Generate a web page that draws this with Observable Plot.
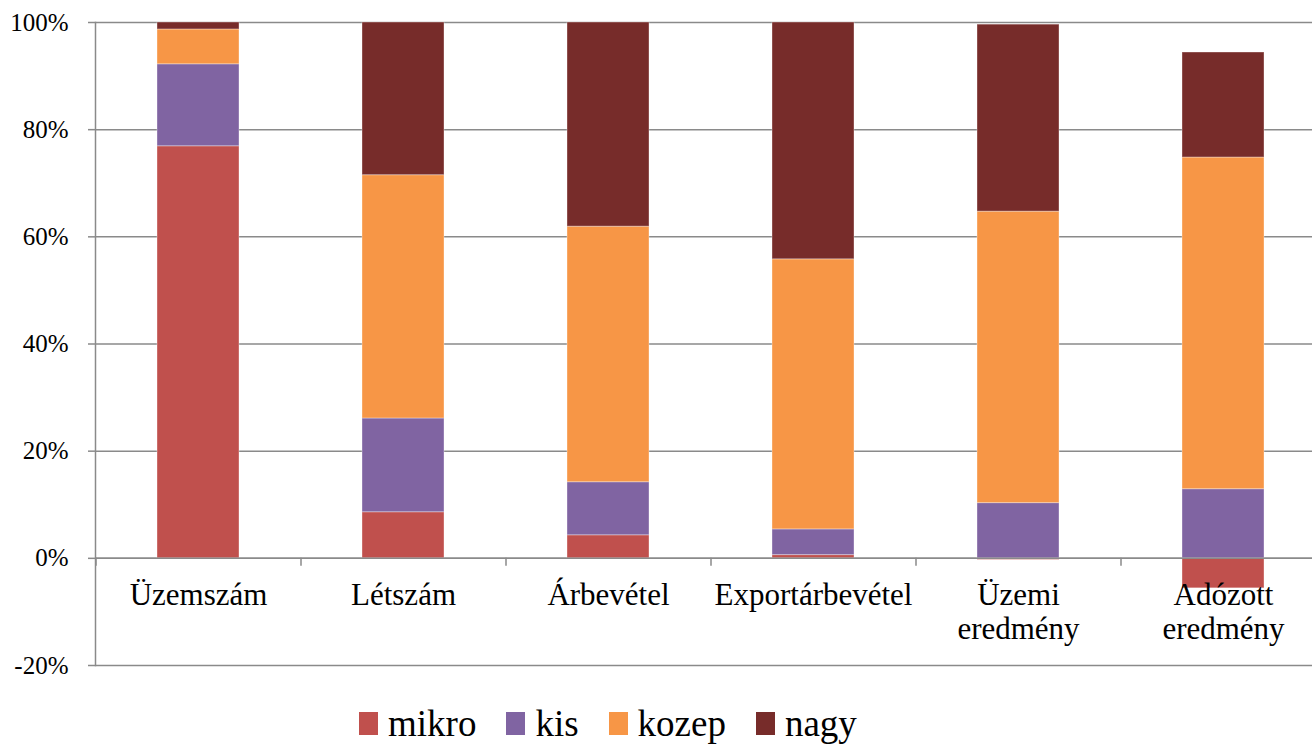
<!DOCTYPE html>
<html>
<head>
<meta charset="utf-8">
<script src="https://cdn.jsdelivr.net/npm/d3@7"></script>
<script src="https://cdn.jsdelivr.net/npm/@observablehq/plot@0.6"></script>
<style>
  body { margin: 0; background: #fff; font-family: 'Liberation Serif', 'DejaVu Serif', 'Noto Serif', serif; }
  #legend { display: flex; align-items: center; height: 59px; padding-top: 4px; padding-left: 359px; font-size: 37px; color: #000; }
  .item { display: flex; align-items: center; margin-right: 30px; }
  .sw { width: 19px; height: 23px; margin-right: 10px; }
</style>
</head>
<body>
<div id="chart"></div>
<div id="legend"></div>
<script>
const categories = ["Üzemszám", "Létszám", "Árbevétel", "Exportárbevétel", "Üzemi\neredmény", "Adózott\neredmény"];
const seriesNames = ["mikro", "kis", "kozep", "nagy"];
const colors = ["#C0504D", "#8064A2", "#F79646", "#772C2A"];
const mikro = [76.9, 8.6, 4.3, 0.6, -0.3, -5.6];
const kis = [15.3, 17.5, 9.9, 4.8, 10.3, 12.9];
const kozep = [6.5, 45.4, 47.7, 50.4, 54.4, 61.9];
const nagy = [1.3, 28.5, 38.1, 44.2, 34.9, 19.6];
const yTicks = [-20, 0, 20, 40, 60, 80, 100];

const seriesValues = [mikro, kis, kozep, nagy];
const data = [];
seriesNames.forEach((s, i) => categories.forEach((c, j) => data.push({cat: c, series: s, value: seriesValues[i][j]})));

const gray = "#8a8a8a";
const serif = "'Liberation Serif', 'DejaVu Serif', 'Noto Serif', serif";
const chart = Plot.plot({
  width: 1312,
  height: 690,
  marginTop: 22,
  marginBottom: 25,
  marginLeft: 95,
  marginRight: 0,
  style: {fontFamily: serif, color: "#000", background: "#fff", overflow: "visible"},
  x: {domain: categories, range: [95, 1325], paddingInner: 0.6, paddingOuter: 0.3, axis: null},
  y: {domain: [-20, 100], axis: null},
  color: {domain: seriesNames, range: colors},
  marks: [
    Plot.ruleY(yTicks, {stroke: gray, strokeWidth: 1.5}),
    Plot.barY(data, {x: "cat", y: "value", fill: "series", stroke: "#fff", strokeOpacity: 0.35, strokeWidth: 1}),
    Plot.ruleY([0], {stroke: gray, strokeWidth: 1.5}),
    Plot.ruleX(categories, {x: d => d, y1: 0, y2: -1.5, dx: -102.5, stroke: gray, strokeWidth: 1.5}),
    Plot.frame({anchor: "left", stroke: gray, strokeWidth: 1.5}),
    Plot.axisY(yTicks, {tickSize: 7, tickPadding: 20, stroke: gray, strokeWidth: 1.5, tickFormat: d => d + "%", fontSize: 25, fontFamily: serif, label: null}),
    Plot.text(categories, {x: d => d, y: 0, text: d => d, lineAnchor: "top", dy: 23, fontSize: 31, fontFamily: serif, lineHeight: 1.08, fill: "#000"})
  ]
});
document.getElementById("chart").append(chart);

const legend = document.getElementById("legend");
seriesNames.forEach((s, i) => {
  const it = document.createElement("div");
  it.className = "item";
  it.innerHTML = `<span class="sw" style="background:${colors[i]}"></span><span>${s}</span>`;
  legend.append(it);
});
</script>
</body>
</html>
